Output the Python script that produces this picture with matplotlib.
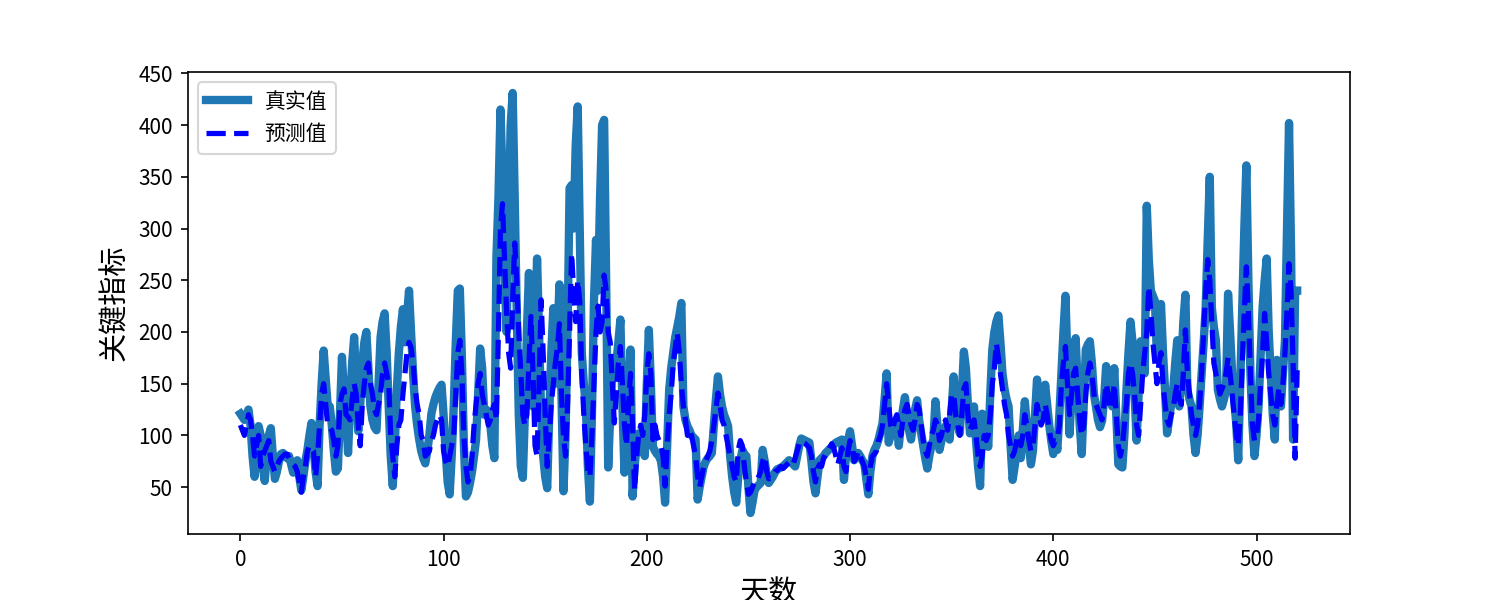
import numpy as np
import matplotlib.pyplot as plt

plt.rcParams['font.family'] = ['Noto Sans CJK SC', 'DejaVu Sans']
plt.rcParams['axes.unicode_minus'] = False

# 真实值, one value per day
true_vals = [
    121, 118, 115, 120, 125, 110, 80, 60, 85, 109,
    100, 70, 56, 80, 100, 107, 80, 58, 65, 75,
    82, 83, 80, 78, 80, 72, 64, 70, 76, 60,
    47, 60, 75, 86, 100, 112, 90, 65, 51, 110,
    150, 182, 155, 128, 128, 110, 85, 65, 68, 120,
    176, 140, 121, 83, 130, 170, 195, 150, 104, 130,
    170, 190, 200, 165, 128, 115, 108, 105, 150, 195,
    210, 218, 180, 128, 80, 51, 90, 144, 180, 205,
    222, 190, 215, 240, 200, 160, 128, 110, 96, 85,
    78, 73, 85, 100, 121, 130, 137, 142, 146, 149,
    120, 85, 55, 43, 80, 128, 190, 240, 242, 176,
    90, 41, 45, 54, 65, 80, 96, 140, 184, 165,
    120, 125, 122, 110, 90, 78, 272, 330, 415, 350,
    260, 200, 300, 400, 431, 330, 220, 120, 70, 59,
    120, 200, 257, 150, 128, 200, 271, 200, 120, 80,
    60, 49, 120, 180, 223, 150, 190, 246, 140, 46,
    100, 200, 339, 342, 300, 380, 418, 300, 180, 150,
    128, 70, 36, 120, 230, 289, 240, 330, 400, 405,
    250, 69, 120, 160, 165, 170, 190, 212, 130, 64,
    100, 150, 183, 41, 70, 90, 102, 95, 85, 80,
    150, 202, 150, 89, 85, 82, 80, 75, 60, 35,
    90, 144, 165, 180, 195, 205, 215, 228, 128, 115,
    109, 105, 100, 98, 96, 38, 50, 60, 70, 75,
    78, 80, 83, 110, 135, 157, 140, 128, 120, 115,
    109, 80, 60, 45, 35, 60, 75, 86, 82, 80,
    50, 25, 35, 47, 50, 52, 54, 86, 75, 62,
    54, 57, 60, 64, 67, 68, 69, 70, 72, 74,
    76, 74, 72, 70, 80, 90, 97, 96, 95, 94,
    93, 75, 55, 44, 60, 76, 78, 80, 83, 85,
    87, 89, 91, 93, 94, 95, 96, 57, 80, 95,
    104, 90, 76, 80, 83, 80, 76, 73, 58, 43,
    65, 80, 86, 90, 96, 104, 112, 135, 160, 93,
    100, 105, 108, 112, 90, 110, 125, 137, 120, 105,
    96, 110, 125, 134, 115, 102, 90, 78, 68, 80,
    90, 96, 133, 110, 86, 95, 102, 109, 102, 96,
    125, 157, 128, 110, 102, 140, 181, 165, 130, 102,
    115, 128, 95, 70, 51, 121, 110, 100, 89, 140,
    183, 200, 210, 216, 190, 160, 145, 135, 128, 90,
    57, 70, 85, 100, 78, 105, 133, 110, 90, 72,
    85, 120, 154, 135, 115, 125, 149, 130, 110, 95,
    82, 100, 86, 120, 160, 200, 235, 170, 101, 140,
    175, 194, 150, 110, 82, 130, 183, 188, 191, 170,
    140, 128, 115, 108, 114, 135, 167, 150, 135, 128,
    165, 120, 72, 70, 69, 100, 144, 180, 210, 190,
    140, 95, 140, 191, 175, 160, 322, 270, 240, 235,
    230, 176, 200, 227, 180, 144, 102, 115, 130, 144,
    170, 192, 128, 170, 210, 236, 144, 135, 128, 100,
    83, 100, 128, 160, 190, 224, 290, 350, 224, 205,
    192, 144, 135, 128, 135, 144, 237, 200, 160, 135,
    112, 76, 150, 224, 300, 361, 250, 160, 110, 80,
    100, 128, 175, 224, 250, 271, 200, 160, 120, 96,
    173, 150, 128, 160, 192, 300, 402, 280, 96, 240,
    240,
]

# 预测值, one value per day
pred_vals = [
    110, 105, 100, 110, 120, 115, 100, 80, 90, 100,
    70, 80, 85, 90, 95, 75, 70, 65, 70, 75,
    78, 80, 82, 82, 78, 75, 72, 70, 65, 55,
    45, 60, 70, 85, 90, 88, 85, 60, 80, 110,
    140, 150, 130, 110, 108, 105, 95, 80, 90, 130,
    140, 145, 120, 118, 115, 135, 150, 140, 110, 90,
    130, 150, 165, 170, 150, 140, 125, 120, 130, 140,
    160, 170, 160, 150, 100, 80, 60, 90, 110, 115,
    140, 160, 180, 190, 185, 170, 145, 130, 120, 100,
    95, 80, 82, 85, 95, 100, 110, 115, 120, 115,
    85, 75, 70, 80, 90, 100, 140, 180, 192, 160,
    100, 70, 55, 60, 80, 110, 130, 150, 160, 140,
    130, 120, 110, 115, 125, 130, 115, 200, 300, 324,
    270, 220, 180, 165, 230, 286, 250, 200, 160, 120,
    110, 120, 170, 215, 160, 90, 80, 150, 231, 180,
    120, 70, 100, 130, 150, 170, 185, 208, 140, 100,
    80, 130, 200, 276, 240, 210, 250, 230, 160, 120,
    90, 65, 60, 100, 150, 200, 225, 200, 210, 255,
    240, 200, 190, 150, 112, 140, 170, 186, 150, 110,
    90, 130, 160, 110, 47, 80, 100, 110, 100, 120,
    160, 179, 160, 96, 110, 100, 95, 90, 80, 51,
    90, 120, 140, 170, 185, 199, 180, 150, 128, 115,
    100, 105, 100, 90, 80, 60, 50, 60, 70, 75,
    80, 85, 95, 110, 125, 141, 130, 115, 110, 100,
    90, 80, 70, 60, 55, 86, 95, 90, 70, 55,
    43, 45, 50, 55, 55, 60, 65, 75, 80, 65,
    58, 60, 62, 65, 66, 68, 70, 68, 70, 72,
    74, 75, 72, 78, 85, 92, 95, 93, 92, 90,
    88, 80, 65, 55, 68, 72, 70, 78, 82, 84,
    88, 92, 88, 80, 72, 80, 88, 70, 65, 85,
    95, 90, 75, 78, 85, 80, 75, 70, 60, 48,
    70, 80, 82, 85, 95, 100, 110, 130, 150, 130,
    110, 105, 115, 120, 110, 100, 115, 125, 130, 120,
    110, 105, 115, 130, 125, 110, 95, 85, 80, 90,
    100, 105, 115, 110, 95, 100, 110, 115, 105, 120,
    140, 140, 120, 110, 100, 120, 145, 150, 120, 105,
    110, 115, 100, 80, 70, 80, 100, 95, 100, 120,
    150, 165, 189, 175, 160, 145, 130, 120, 100, 90,
    80, 85, 95, 100, 90, 100, 120, 110, 95, 85,
    90, 110, 130, 120, 110, 115, 130, 120, 105, 95,
    90, 95, 95, 110, 150, 170, 186, 150, 120, 140,
    160, 165, 140, 115, 100, 110, 140, 160, 170, 160,
    140, 130, 125, 120, 115, 130, 150, 140, 125, 130,
    150, 120, 90, 80, 90, 110, 130, 160, 170, 160,
    140, 110, 100, 130, 160, 180, 200, 244, 220, 190,
    170, 150, 170, 180, 150, 130, 115, 110, 120, 125,
    140, 150, 135, 130, 160, 202, 160, 140, 120, 110,
    100, 110, 130, 160, 200, 240, 270, 250, 210, 170,
    160, 150, 140, 145, 150, 160, 175, 160, 140, 120,
    100, 90, 120, 170, 220, 263, 220, 160, 110, 95,
    100, 115, 150, 180, 218, 190, 160, 140, 120, 110,
    130, 145, 130, 150, 180, 220, 266, 240, 170, 78,
    163,
]

fig = plt.figure(figsize=(10, 4), dpi=150)
plt.plot(np.arange(len(true_vals)), true_vals, linewidth=4, label='真实值')
plt.plot(np.arange(len(pred_vals)), pred_vals, 'b--', linewidth=2.5, label='预测值')
plt.legend(loc='upper left')
plt.xlabel('天数', fontsize=14)
plt.ylabel('关键指标', fontsize=14)
plt.savefig('out.png', dpi=150)
